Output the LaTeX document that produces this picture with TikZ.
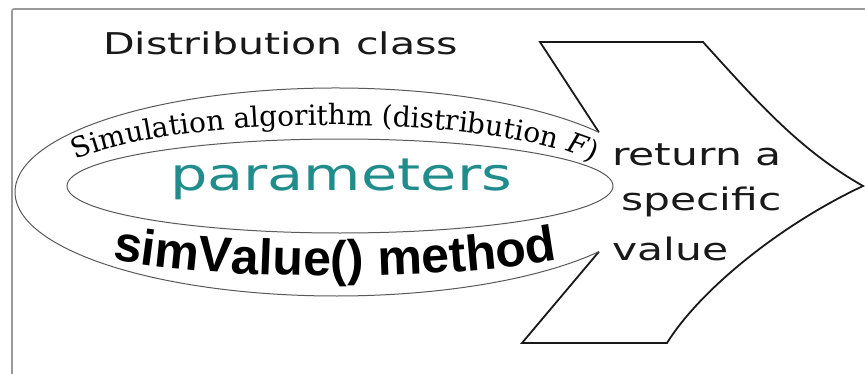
\documentclass[tikz,border=0pt]{standalone}
\usepackage{fontspec}
\usetikzlibrary{decorations.text,calc}
\newfontfamily\labelfont[FakeStretch=1.37]{DejaVu Sans}
\newfontfamily\paramfont[FakeStretch=1.31]{DejaVu Sans}
\newfontfamily\algofont{DejaVu Serif}
\newfontfamily\methfont{Liberation Sans}
\definecolor{paramteal}{RGB}{32,140,140}
\begin{document}
\begin{tikzpicture}[x=1pt,y=1pt,
  frameline/.style={draw=black!40, line width=1.6pt, rounded corners=2pt},
  ringline/.style={draw=black!65, line width=1pt},
  arrowline/.style={draw=black!90, line width=1.8pt, line join=miter},
  lbl/.style={inner sep=0pt, anchor=base west, text=black!90,
              font=\labelfont\fontsize{31}{37}\selectfont}]
\useasboundingbox (0,0) rectangle (865,373);
% frame (left and top edges visible)
\coordinate (fa) at (12,-2);
\coordinate (fb) at (12,364);
\coordinate (fc) at (868,364);
\draw[frameline] (fa) -- (fb) -- (fc);
% outer ring and its notch points
\coordinate (oc) at (336,181);
\coordinate (nt) at ($(oc)+(35:321pt and 104pt)$);
\coordinate (nb) at ($(oc)+(325:321pt and 104pt)$);
% arrow
\coordinate (at1) at (540,331);
\coordinate (at2) at (703,331);
\coordinate (tip) at (863,187);
\coordinate (ab2) at (667,30);
\coordinate (ab1) at (522,30);
\draw[arrowline] (nt) -- (at1) -- (at2)
  .. controls (760,268) and (800,223) .. (tip)
  .. controls (780,148) and (700,83) .. (ab2) -- (ab1) -- (nb);
\draw[ringline] (nt) arc[start angle=35, end angle=325, x radius=321pt, y radius=104pt];
% inner ellipse
\coordinate (ic) at (340,187);
\draw[ringline] (ic) ellipse[x radius=273pt, y radius=47pt];
% curved upper text
\coordinate (tc) at (332,188);
\begin{scope}
\algofont\upshape\fontsize{28}{33}\selectfont
\path[decorate, decoration={text along path, text align=center,
  text={Simulation algorithm (distribution |\itshape|F|\upshape|)}}]
  ($(tc)+(170:282pt and 60pt)$) arc[start angle=170, end angle=6, x radius=282pt, y radius=60pt];
\end{scope}
% curved lower text
\coordinate (bc) at (335,146);
\begin{scope}
\methfont\upshape\bfseries\fontsize{50}{60}\selectfont
\path[decorate, decoration={text along path, text align=center,
  text={|\upshape\bfseries|simValue() method}}]
  ($(bc)+(210:300pt and 49pt)$) arc[start angle=210, end angle=330, x radius=300pt, y radius=49pt];
\end{scope}
% labels
\node[lbl, font=\labelfont\fontsize{30}{36}\selectfont] (title) at (103,318) {Distribution class};
\node[inner sep=0pt, anchor=base, text=paramteal,
      font=\paramfont\fontsize{45}{54}\selectfont] (params) at (341,183) {parameters};
\node[lbl] (r1) at (612,208) {return a};
\node[lbl] (r2) at (621,163) {specific};
\node[lbl] (r3) at (612,113) {value};
\end{tikzpicture}
\end{document}
